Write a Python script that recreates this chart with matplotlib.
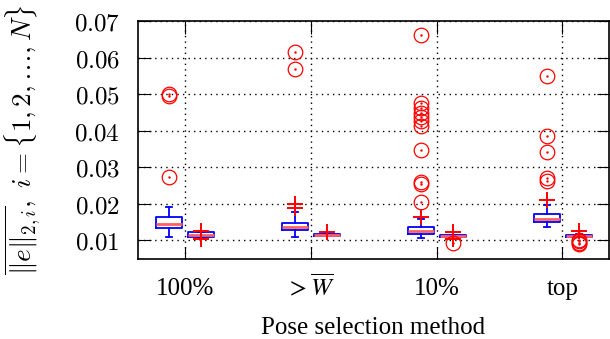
import matplotlib
matplotlib.use("Agg")
import matplotlib.pyplot as plt
from matplotlib.ticker import FixedLocator

categories = ["100%", r"$>\overline{W}$", "10%", "top"]

# Box A (wide, left) statistics per category
a_whislo = [0.01074, 0.0109, 0.01047, 0.01365]
a_q1 = [0.01321, 0.01266, 0.01156, 0.01493]
a_med = [0.01447, 0.01364, 0.01255, 0.0158]
a_q3 = [0.01622, 0.01458, 0.01348, 0.01704]
a_whishi = [0.01896, 0.01759, 0.01575, 0.01959]
a_plus = [[], [0.0199, 0.0188], [0.0164], [0.0211]]
a_circ = [
    [0.0500, 0.0494, 0.0274],
    [0.0614, 0.0568],
    [0.0662, 0.0475, 0.0462, 0.0448, 0.0437, 0.0426, 0.0411, 0.0347, 0.0260, 0.0253, 0.0205],
    [0.0549, 0.0386, 0.0342, 0.0271, 0.0262],
]

# Box B (narrow-spread, right) statistics per category
b_whislo = [0.0106, 0.0110, 0.0107, 0.0108]
b_q1 = [0.0108, 0.0111, 0.01082, 0.0109]
b_med = [0.01137, 0.01145, 0.0111, 0.0112]
b_q3 = [0.0121, 0.01173, 0.01137, 0.01145]
b_whishi = [0.0122, 0.0118, 0.0115, 0.0116]
b_plus = [[0.0124, 0.0103], [0.0123], [0.0123, 0.0102], [0.0126]]
b_circ = [[], [], [0.0091], [0.0101, 0.0097, 0.0093, 0.0089]]

yticks = [0.01, 0.02, 0.03, 0.04, 0.05, 0.06, 0.07]

fig = plt.figure(figsize=(6.1, 3.39), dpi=100)
ax = fig.add_axes([138 / 610, 1 - 259 / 339, 471 / 610, 238 / 339])

pos = list(range(1, len(categories) + 1))
offA, offB, width = -0.125, 0.13, 0.205


def stats(lo, q1, med, q3, hi):
    return [dict(whislo=lo[i], q1=q1[i], med=med[i], q3=q3[i], whishi=hi[i], fliers=[])
            for i in range(len(lo))]


blue = "#0000ff"
red = "#ff0000"
for st, off in [(stats(a_whislo, a_q1, a_med, a_q3, a_whishi), offA),
                (stats(b_whislo, b_q1, b_med, b_q3, b_whishi), offB)]:
    ax.bxp(st, positions=[p + off for p in pos], widths=width, showfliers=False,
           boxprops=dict(color=blue, linewidth=1.3),
           whiskerprops=dict(color=blue, linewidth=1.3),
           capprops=dict(color=blue, linewidth=1.3),
           medianprops=dict(color="#ff6060", linewidth=2.0),
           capwidths=0.05, manage_ticks=False, zorder=3)

for plus, circ, off in [(a_plus, a_circ, offA), (b_plus, b_circ, offB)]:
    for i, p in enumerate(pos):
        if plus[i]:
            ax.plot([p + off] * len(plus[i]), plus[i], linestyle="none", marker="+",
                    markersize=12, markeredgewidth=1.4, color=red, zorder=4)
        if circ[i]:
            ax.plot([p + off] * len(circ[i]), circ[i], linestyle="none", marker="o",
                    markersize=10.5, markerfacecolor="none", markeredgewidth=0.9,
                    color=red, zorder=4)
            ax.plot([p + off] * len(circ[i]), circ[i], linestyle="none", marker=".",
                    markersize=1.5, color=red, zorder=4)

ax.set_xlim(0.627, 4.37)
ax.set_ylim(0.0048, 0.07)
ax.set_xticks(pos)
ax.set_xticklabels(categories, fontfamily="Liberation Serif", fontsize=18,
                   math_fontfamily="stix")
for lab in ax.get_xticklabels():
    lab.set_verticalalignment("baseline")
ax.yaxis.set_major_locator(FixedLocator(yticks))
ax.set_yticklabels([r"$%.2f$" % v for v in yticks], fontsize=18, math_fontfamily="cm")
ax.tick_params(direction="in", length=9, width=0.8, top=True, right=True)
ax.tick_params(axis="x", pad=26)
ax.tick_params(axis="y", pad=13)
ax.grid(True, color="black", linestyle=(0, (1, 3)), linewidth=1.0)
ax.set_axisbelow(True)
for s in ax.spines.values():
    s.set_linewidth(1.2)

ax.set_xlabel("Pose selection method", fontfamily="Liberation Serif", fontsize=18)
ax.xaxis.set_label_coords(0.5, -0.245)
ax.set_ylabel(r"$\overline{\|e\|_{2,i}},\ i=\{1,2,\ldots,N\}$", fontsize=19.5,
              math_fontfamily="cm")
ax.yaxis.set_label_coords(-0.203, 0.5)

fig.savefig("out.png", dpi=100)
